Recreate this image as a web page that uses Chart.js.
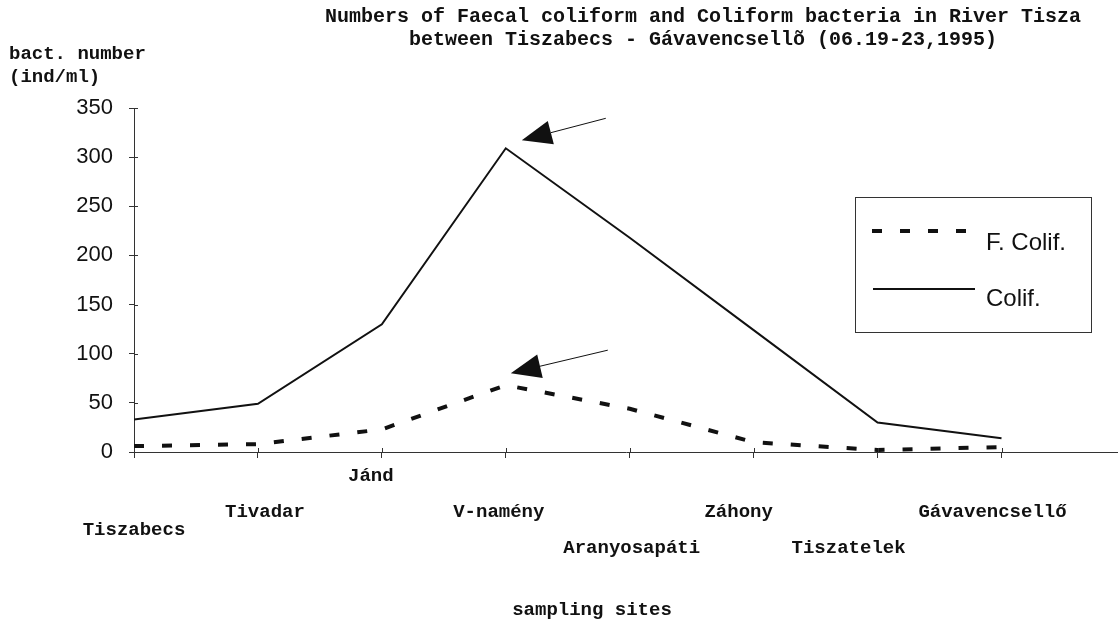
<!DOCTYPE html>
<html lang="en">
<head>
    <meta charset="UTF-8">
    <title>Faecal coliform and Coliform bacteria - River Tisza</title>
    <script src="https://cdn.jsdelivr.net/npm/chart.js"></script>
    <style>
        body { margin: 0; background: #fff; }
    </style>
</head>
<body>
    <canvas id="chart" width="1118" height="628"></canvas>
    <script>
        // sampling sites along the river, upstream to downstream
        const sites = ['Tiszabecs', 'Tivadar', 'Jánd', 'V-namény', 'Aranyosapáti', 'Záhony', 'Tiszatelek', 'Gávavencsellő'];
        // values (ind/ml)
        const fColif = [6, 8, 23, 68, 44, 10, 2, 5];
        const colif = [33, 49, 130, 309, 218, 124, 30, 14];
        const yTicks = [0, 50, 100, 150, 200, 250, 300, 350];

        // label row (0 = top) and small horizontal nudge, as staggered in the figure
        const siteRow = [3, 2, 0, 2, 4, 2, 4, 2];
        const siteShift = [0, 7, -11, -7, 2, -15, -29, -9];

        const mono = '"Liberation Mono", "DejaVu Sans Mono", monospace';
        const sans = '"Liberation Sans", Arial, sans-serif';
        const ink = '#111';

        const toPoints = arr => arr.map((v, i) => ({ x: i, y: v }));

        const paperPlugin = {
            id: 'paper',
            beforeDraw(chart) {
                const c = chart.ctx;
                c.save();
                c.fillStyle = '#fff';
                c.fillRect(0, 0, chart.width, chart.height);
                c.restore();
            }
        };

        function arrow(c, tx, ty, ex, ey) {
            const ang = Math.atan2(ey - ty, ex - tx);
            const len = 30, half = 12;
            const bx = tx + Math.cos(ang) * len, by = ty + Math.sin(ang) * len;
            c.beginPath();
            c.moveTo(bx, by);
            c.lineTo(ex, ey);
            c.lineWidth = 1;
            c.stroke();
            c.beginPath();
            c.moveTo(tx, ty);
            c.lineTo(bx - Math.sin(ang) * half, by + Math.cos(ang) * half);
            c.lineTo(bx + Math.sin(ang) * half, by - Math.cos(ang) * half);
            c.closePath();
            c.fill();
        }

        const decorPlugin = {
            id: 'decor',
            afterDraw(chart) {
                const c = chart.ctx;
                const xs = chart.scales.x, ys = chart.scales.y;
                c.save();
                c.fillStyle = ink;
                c.strokeStyle = ink;

                // tick marks also cross into the plot, like the original
                c.strokeStyle = '#333';
                c.lineWidth = 1;
                c.beginPath();
                xs.ticks.forEach(t => {
                    const x = Math.round(xs.getPixelForValue(t.value)) + 0.5;
                    c.moveTo(x, ys.bottom - 4);
                    c.lineTo(x, ys.bottom);
                });
                ys.ticks.forEach(t => {
                    const y = Math.round(ys.getPixelForValue(t.value)) + 0.5;
                    c.moveTo(xs.left, y);
                    c.lineTo(xs.left + 4, y);
                });
                c.stroke();
                c.strokeStyle = ink;

                // title
                c.font = 'bold 20px ' + mono;
                c.textAlign = 'center';
                c.textBaseline = 'middle';
                c.fillText('Numbers of Faecal coliform and Coliform bacteria in River Tisza', 703, 17);
                c.fillText('between Tiszabecs - Gávavencsellõ (06.19-23,1995)', 703, 40);

                // y axis title
                c.font = 'bold 19px ' + mono;
                c.textAlign = 'left';
                c.fillText('bact. number', 9, 54);
                c.fillText('(ind/ml)', 9, 77);

                // x axis title
                c.textAlign = 'center';
                c.fillText('sampling sites', 592, 610);

                // staggered site labels
                sites.forEach((s, i) => {
                    const x = xs.getPixelForValue(i) + siteShift[i];
                    const y = ys.bottom + 24 + siteRow[i] * 18;
                    c.fillText(s, x, y);
                });

                // arrows pointing at the two peaks
                const peak = colif.indexOf(Math.max(...colif));
                const px = xs.getPixelForValue(peak);
                const py1 = ys.getPixelForValue(colif[peak]);
                arrow(c, px + 16, py1 - 8, px + 100, py1 - 30);
                const fpeak = fColif.indexOf(Math.max(...fColif));
                const fx = xs.getPixelForValue(fpeak);
                const py2 = ys.getPixelForValue(fColif[fpeak]);
                arrow(c, fx + 5, py2 - 12, fx + 102, py2 - 35);

                // legend box
                c.lineWidth = 1;
                c.strokeStyle = '#333';
                c.strokeRect(855.5, 197.5, 236, 135);
                c.strokeStyle = ink;
                c.lineWidth = 4;
                c.setLineDash([10, 18]);
                c.beginPath();
                c.moveTo(872, 231);
                c.lineTo(970, 231);
                c.stroke();
                c.setLineDash([]);
                c.lineWidth = 2;
                c.beginPath();
                c.moveTo(873, 289);
                c.lineTo(975, 289);
                c.stroke();
                c.font = '24px ' + sans;
                c.textAlign = 'left';
                c.fillText('F. Colif.', 986, 243);
                c.fillText('Colif.', 986, 299);
                c.restore();
            }
        };

        new Chart(document.getElementById('chart'), {
            type: 'line',
            data: {
                datasets: [
                    {
                        label: 'F. Colif.',
                        data: toPoints(fColif),
                        borderColor: ink,
                        borderWidth: 4,
                        borderDash: [10, 18],
                        pointRadius: 0,
                        tension: 0
                    },
                    {
                        label: 'Colif.',
                        data: toPoints(colif),
                        borderColor: ink,
                        borderWidth: 2,
                        pointRadius: 0,
                        tension: 0
                    }
                ]
            },
            options: {
                responsive: false,
                animation: false,
                layout: { padding: { top: 108, right: 0, left: 0, bottom: 0 } },
                plugins: {
                    legend: { display: false },
                    title: { display: false },
                    tooltip: { enabled: false }
                },
                scales: {
                    x: {
                        type: 'linear',
                        min: 0,
                        max: 7.94,
                        afterFit: s => { s.height = 176; },
                        afterBuildTicks: s => { s.ticks = sites.map((_, i) => ({ value: i })); },
                        grid: { drawOnChartArea: false, color: '#333', tickLength: 6 },
                        border: { color: '#333', width: 1 },
                        ticks: { display: false }
                    },
                    y: {
                        min: 0,
                        max: 350,
                        afterFit: s => { s.width = 134; },
                        afterBuildTicks: s => { s.ticks = yTicks.map(v => ({ value: v })); },
                        grid: { drawOnChartArea: false, color: '#333', tickLength: 5 },
                        border: { color: '#333', width: 1 },
                        ticks: { color: ink, padding: 16, font: { family: sans, size: 22 } }
                    }
                }
            },
            plugins: [paperPlugin, decorPlugin]
        });
    </script>
</body>
</html>
